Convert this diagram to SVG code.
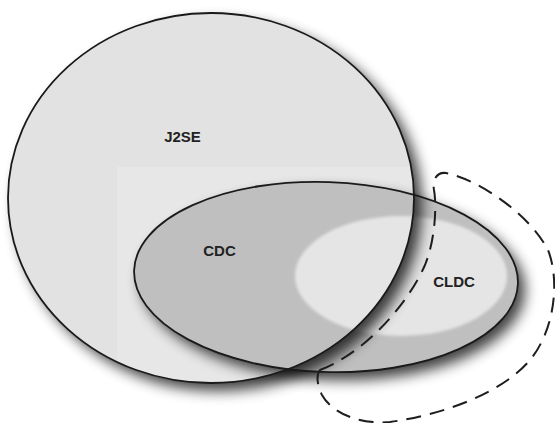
<svg xmlns="http://www.w3.org/2000/svg" width="555" height="423" viewBox="0 0 555 423">
  <defs>
    <filter id="shadow" x="-20%" y="-20%" width="150%" height="150%">
      <feGaussianBlur stdDeviation="7"/>
    </filter>
    <filter id="soft" x="-10%" y="-10%" width="120%" height="120%">
      <feGaussianBlur stdDeviation="1.5"/>
    </filter>
    <clipPath id="clipJ2SE">
      <ellipse cx="211" cy="198" rx="203" ry="185"/>
    </clipPath>
    <clipPath id="clipCDC">
      <ellipse cx="326" cy="277" rx="192" ry="95" transform="rotate(2 326 277)"/>
    </clipPath>
    <mask id="outsideJ2SE">
      <rect x="0" y="0" width="555" height="423" fill="#fff"/>
      <ellipse cx="211" cy="198" rx="203" ry="185" fill="#000"/>
    </mask>
  </defs>
  <style>
    .outline { fill: none; stroke: #1a1a1a; stroke-width: 1.8; }
    .shadow { fill: #000; opacity: 0.75; filter: url(#shadow); }
    .label { font-family: "Liberation Sans", Arial, sans-serif; font-size: 15px; font-weight: bold; fill: #222; text-anchor: middle; }
    .dashed { fill: none; stroke: #1e1e1e; stroke-width: 2; stroke-dasharray: 15 9; }
  </style>

  <rect x="0" y="0" width="555" height="423" fill="#fff"/>

  <g id="J2SE">
    <ellipse class="shadow" cx="219" cy="206" rx="203" ry="185"/>
    <ellipse cx="211" cy="198" rx="203" ry="185" fill="#e2e2e2"/>
    <rect x="117" y="167" width="300" height="230" fill="#e7e7e7" clip-path="url(#clipJ2SE)"/>
    <text class="label" x="182.5" y="142">J2SE</text>
  </g>

  <g id="CDC">
    <ellipse class="shadow" cx="333" cy="285" rx="192" ry="95" transform="rotate(2 333 285)"/>
    <ellipse cx="326" cy="277" rx="192" ry="95" transform="rotate(2 326 277)" fill="#bfbfbf"/>
    <text class="label" x="219.5" y="256">CDC</text>
  </g>

  <g id="CLDC">
    <ellipse cx="401" cy="276" rx="106" ry="60" fill="#e5e5e5" filter="url(#soft)"/>
    <g clip-path="url(#clipCDC)">
      <g mask="url(#outsideJ2SE)">
        <ellipse class="shadow" cx="219" cy="206" rx="203" ry="185"/>
      </g>
    </g>
    <text class="label" x="454" y="287">CLDC</text>
  </g>

  <g id="outlines">
    <ellipse class="outline" cx="211" cy="198" rx="203" ry="185"/>
    <ellipse class="outline" cx="326" cy="277" rx="192" ry="95" transform="rotate(2 326 277)"/>
  </g>

  <g id="connectors">
    <path class="dashed" d="M 320,370 C 360,355 405,310 425,265 C 437,235 436,200 434,190 C 432,178 438,172 446,173 C 480,180 530,215 548,250 C 560,280 555,330 530,360 C 500,395 440,415 390,422 C 355,425 330,410 322,395 C 317,385 316,375 320,370 Z"/>
  </g>
</svg>
